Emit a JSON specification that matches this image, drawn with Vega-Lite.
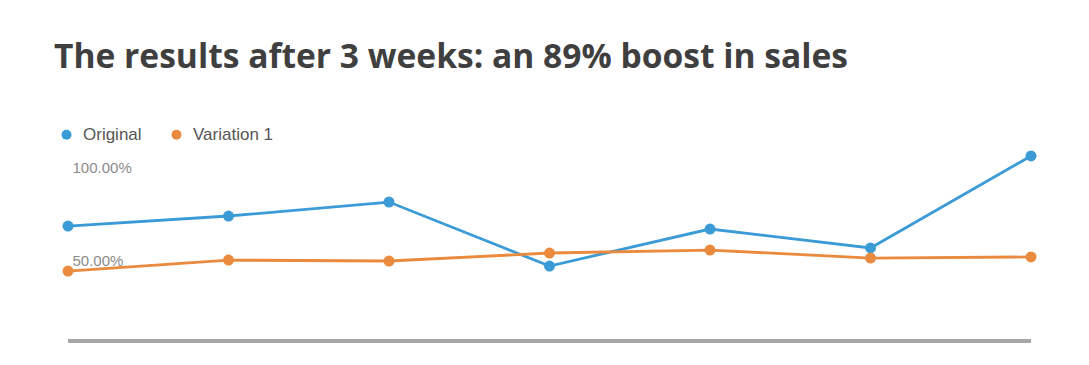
{
  "$schema": "https://vega.github.io/schema/vega-lite/v6.json",
  "autosize": "none",
  "width": 963,
  "height": 186,
  "padding": {"left": 68, "top": 155, "right": 58, "bottom": 24},
  "background": "white",
  "title": {
    "text": "The results after 3 weeks: an 89% boost in sales",
    "anchor": "start",
    "frame": "group",
    "dx": -14,
    "offset": 51,
    "font": "Open Sans",
    "fontSize": 33.6,
    "fontWeight": 700,
    "color": "#3f3f3f"
  },
  "data": {
    "values": [
      {"day": 1, "series": "Original", "rate": 0.618},
      {"day": 2, "series": "Original", "rate": 0.672},
      {"day": 3, "series": "Original", "rate": 0.747},
      {"day": 4, "series": "Original", "rate": 0.403},
      {"day": 5, "series": "Original", "rate": 0.602},
      {"day": 6, "series": "Original", "rate": 0.500},
      {"day": 7, "series": "Original", "rate": 0.995},
      {"day": 1, "series": "Variation 1", "rate": 0.376},
      {"day": 2, "series": "Variation 1", "rate": 0.435},
      {"day": 3, "series": "Variation 1", "rate": 0.430},
      {"day": 4, "series": "Variation 1", "rate": 0.473},
      {"day": 5, "series": "Variation 1", "rate": 0.489},
      {"day": 6, "series": "Variation 1", "rate": 0.446},
      {"day": 7, "series": "Variation 1", "rate": 0.452}
    ]
  },
  "config": {
    "view": {"stroke": null},
    "font": "Liberation Sans"
  },
  "layer": [
    {
      "mark": {"type": "rule", "color": "#a6a6a6", "strokeWidth": 3},
      "encoding": {"y": {"datum": 0, "type": "quantitative", "scale": {"domain": [0, 1]}}}
    },
    {
      "mark": {"type": "line", "strokeWidth": 2.8, "point": {"filled": true, "size": 120, "opacity": 1}},
      "encoding": {
        "x": {"field": "day", "type": "ordinal", "scale": {"type": "point", "padding": 0}, "axis": null},
        "y": {
          "field": "rate",
          "type": "quantitative",
          "scale": {"domain": [0, 1]},
          "axis": {
            "title": null,
            "values": [0.5, 1],
            "format": ".2%",
            "ticks": false,
            "domain": false,
            "labelAlign": "left",
            "labelBaseline": "top",
            "labelPadding": -4,
            "labelOffset": 5,
            "labelFontSize": 15,
            "labelColor": "#8a8a8a",
            "gridColor": "#eeeeee",
            "gridWidth": 1.5
          }
        },
        "color": {
          "field": "series",
          "type": "nominal",
          "scale": {"domain": ["Original", "Variation 1"], "range": ["#3a9bd6", "#ea8a3e"]},
          "legend": {
            "title": null,
            "orient": "none",
            "direction": "horizontal",
            "legendX": -10,
            "legendY": -29,
            "symbolType": "circle",
            "symbolSize": 100,
            "symbolStrokeWidth": 0,
            "labelFontSize": 17,
            "labelColor": "#555555",
            "columnPadding": 26,
            "labelOffset": 8
          }
        }
      }
    }
  ]
}
